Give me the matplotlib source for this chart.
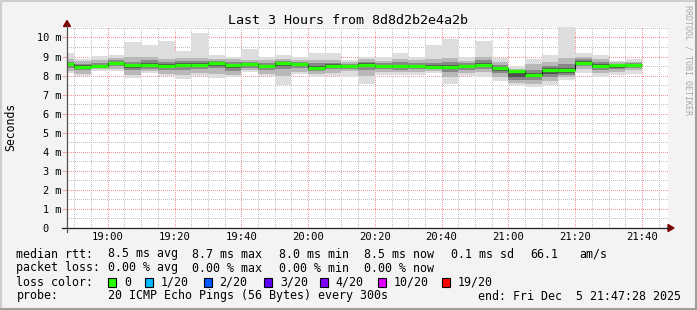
import numpy as np
import matplotlib
matplotlib.use("Agg")
import matplotlib.pyplot as plt
from matplotlib.patches import Polygon, Rectangle
from matplotlib.lines import Line2D
from matplotlib.ticker import MultipleLocator, FixedLocator

W, H = 697, 310
MONO = "DejaVu Sans Mono"

# 5 minute steps, start of each step in minutes after 18:00
step_start = list(range(45, 220, 5))

# rtt in ms
rtt_median = [8.60, 8.47, 8.50, 8.68, 8.54, 8.55, 8.52, 8.57, 8.57, 8.64,
              8.53, 8.59, 8.48, 8.66, 8.59, 8.41, 8.52, 8.50, 8.58, 8.49,
              8.48, 8.49, 8.47, 8.47, 8.48, 8.57, 8.38, 8.22, 8.05, 8.28,
              8.28, 8.68, 8.49, 8.53, 8.53]
rtt_max = [9.18, 8.85, 9.02, 9.09, 9.75, 9.63, 9.84, 9.27, 10.23, 9.06,
           9.00, 9.37, 8.98, 9.10, 9.00, 9.18, 9.18, 8.83, 9.00, 8.97,
           9.16, 9.00, 9.58, 9.90, 8.98, 9.84, 8.90, 8.48, 8.88, 9.06,
           11.50, 9.18, 9.10, 8.78, 8.86]
rtt_min = [8.13, 7.96, 8.24, 8.22, 7.87, 8.15, 7.97, 7.80, 7.96, 7.87,
           7.93, 8.18, 7.98, 7.49, 8.08, 7.93, 7.97, 7.92, 7.57, 8.02,
           8.03, 8.03, 8.12, 7.57, 8.00, 7.93, 7.72, 7.49, 7.40, 7.49,
           7.75, 8.13, 7.92, 8.01, 8.10]
# inner smoke bands (roughly ping 3/18, 6/15, 8/13 of 20)
smoke_hi1 = [8.85, 8.75, 8.80, 8.90, 8.95, 8.95, 8.85, 8.90, 8.92, 8.85,
             8.85, 8.82, 8.80, 8.85, 8.82, 8.80, 8.80, 8.72, 8.85, 8.78,
             8.85, 8.80, 8.85, 8.90, 8.78, 8.95, 8.70, 8.35, 8.60, 8.70,
             8.90, 8.95, 8.85, 8.70, 8.72]
smoke_lo1 = [8.25, 8.10, 8.32, 8.35, 8.05, 8.25, 8.10, 8.05, 8.15, 8.10,
             8.05, 8.30, 8.10, 8.00, 8.20, 8.10, 8.15, 8.25, 8.00, 8.20,
             8.20, 8.20, 8.25, 7.90, 8.15, 8.20, 7.95, 7.60, 7.55, 7.70,
             7.90, 8.35, 8.15, 8.20, 8.28]
smoke_hi2 = [8.72, 8.62, 8.65, 8.80, 8.72, 8.80, 8.70, 8.75, 8.75, 8.78,
             8.72, 8.72, 8.68, 8.78, 8.72, 8.65, 8.68, 8.62, 8.72, 8.65,
             8.70, 8.68, 8.68, 8.72, 8.65, 8.80, 8.55, 8.28, 8.30, 8.50,
             8.60, 8.85, 8.72, 8.62, 8.64]
smoke_lo2 = [8.40, 8.28, 8.40, 8.50, 8.30, 8.35, 8.28, 8.30, 8.35, 8.40,
             8.25, 8.40, 8.28, 8.35, 8.38, 8.25, 8.32, 8.35, 8.30, 8.32,
             8.30, 8.32, 8.35, 8.20, 8.30, 8.35, 8.15, 7.75, 7.75, 7.95,
             8.05, 8.48, 8.28, 8.32, 8.38]
smoke_hi3 = [8.66, 8.55, 8.56, 8.72, 8.62, 8.66, 8.60, 8.65, 8.65, 8.70,
             8.62, 8.65, 8.58, 8.72, 8.65, 8.52, 8.60, 8.56, 8.65, 8.56,
             8.58, 8.58, 8.56, 8.58, 8.56, 8.68, 8.46, 8.24, 8.15, 8.38,
             8.40, 8.75, 8.60, 8.57, 8.58]
smoke_lo3 = [8.48, 8.38, 8.45, 8.58, 8.42, 8.45, 8.40, 8.45, 8.45, 8.50,
             8.40, 8.50, 8.38, 8.52, 8.48, 8.32, 8.42, 8.42, 8.45, 8.40,
             8.38, 8.40, 8.40, 8.35, 8.40, 8.45, 8.25, 7.95, 7.90, 8.10,
             8.15, 8.58, 8.38, 8.42, 8.45]

time_ticks = [60, 80, 100, 120, 140, 160, 180, 200, 220]
time_labels = ["19:00", "19:20", "19:40", "20:00", "20:20",
               "20:40", "21:00", "21:20", "21:40"]
ms_ticks = list(range(0, 11))
ms_labels = ["0  "] + ["%d m" % v for v in range(1, 11)]

loss_names = ["0", "1/20", "2/20", "3/20", "4/20", "10/20", "19/20"]
loss_colors = ["#26ff00", "#00b8ff", "#0059ff", "#5e00ff", "#7e00ff",
               "#dd00ff", "#ff0000"]


def fx(px):
    return px / W


def fy(py):
    return 1 - py / H


fig = plt.figure(figsize=(W / 100, H / 100), dpi=100, facecolor="#f3f3f3")

# 3d frame of rrdtool
fig.add_artist(Line2D([0, 1], [fy(0.8), fy(0.8)], color="#cfcfcf", lw=1.5))
fig.add_artist(Line2D([fx(0.8), fx(0.8)], [0, 1], color="#cfcfcf", lw=1.5))
fig.add_artist(Line2D([0, 1], [fy(H - 1), fy(H - 1)], color="#9e9e9e", lw=1.5))
fig.add_artist(Line2D([fx(W - 1), fx(W - 1)], [0, 1], color="#9e9e9e", lw=1.5))

ax = fig.add_axes([fx(67), fy(228), (668 - 67) / W, (228 - 27) / H])
ax.set_facecolor("white")
ax.set_xlim(47.8, 227.8)
ax.set_ylim(0, 10.55)
for s in ax.spines.values():
    s.set_visible(False)

ax.xaxis.set_major_locator(FixedLocator(time_ticks))
ax.xaxis.set_minor_locator(MultipleLocator(5))
ax.yaxis.set_major_locator(FixedLocator(ms_ticks))
ax.yaxis.set_minor_locator(MultipleLocator(0.5))
ax.set_xticklabels(time_labels, family=MONO, fontsize=7.6)
ax.set_yticklabels(ms_labels, family=MONO, fontsize=7.4)
ax.tick_params(axis="x", which="both", length=0, pad=2.6)
ax.tick_params(axis="y", which="major", length=3.6, width=0.7,
               color="#f0a0a0", pad=0.6)
ax.tick_params(axis="y", which="minor", length=0)

ax.grid(which="minor", color="#c2c2c2", lw=0.72, ls=(0, (1, 2)), antialiased=False)
ax.grid(which="major", color="#f29494", lw=0.72, ls=(0, (1, 2)), antialiased=False)
ax.set_axisbelow(True)

# smoke
bands = [(rtt_min, rtt_max, "#dddddd"),
         (smoke_lo1, smoke_hi1, "#b8b8b8"),
         (smoke_lo2, smoke_hi2, "#888888"),
         (smoke_lo3, smoke_hi3, "#505050")]
for lo, hi, col in bands:
    lo = np.array(lo)
    hi = np.array(hi)
    ax.bar(step_start, hi - lo, bottom=lo, width=5, align="edge",
           color=col, linewidth=0, antialiased=False, zorder=2)

edges = step_start + [step_start[-1] + 5]
ax.stairs(rtt_median, edges, baseline=None, color="#101010", lw=0.8, zorder=3)
ax.hlines(rtt_median, step_start, edges[1:], colors=loss_colors[0],
          lw=2.4, zorder=4)

# axis lines and arrows
fig.add_artist(Line2D([fx(62), fx(669)], [fy(228), fy(228)], color="#202020", lw=0.9))
fig.add_artist(Line2D([fx(67), fx(67)], [fy(232), fy(25)], color="#505050", lw=0.9))
fig.add_artist(Polygon([(fx(668), fy(224.5)), (fx(668), fy(231.5)), (fx(674), fy(228))],
                       closed=True, color="#7f0000", transform=fig.transFigure))
fig.add_artist(Polygon([(fx(63.5), fy(26.5)), (fx(70.5), fy(26.5)), (fx(67), fy(20.5))],
                       closed=True, color="#7f0000", transform=fig.transFigure))

fig.text(fx(347.5), fy(20), "Last 3 Hours from 8d8d2b2e4a2b", family=MONO,
         fontsize=9.6, ha="center", va="center")
fig.text(fx(11), fy(127), "Seconds", family=MONO, fontsize=8.3,
         rotation=90, ha="center", va="center")
fig.text(fx(688), fy(60), "RRDTOOL / TOBI OETIKER", family=MONO, fontsize=6,
         rotation=270, ha="center", va="center", color="#a8a8a8")

fs = 8.35
rows = [
    (254, [(16.4, "median rtt:"), (107.6, "8.5 ms avg"), (192.4, "8.7 ms max"),
           (279, "8.0 ms min"), (364.4, "8.5 ms now"), (451, "0.1 ms sd"),
           (530, "66.1"), (579, "am/s")]),
    (268, [(16.4, "packet loss:"), (107.6, "0.00 % avg"), (192.4, "0.00 % max"),
           (279, "0.00 % min"), (364.4, "0.00 % now")]),
    (282, [(16.4, "loss color:")]),
    (296, [(16.4, "probe:"), (107.6, "20 ICMP Echo Pings (56 Bytes) every 300s"),
           (477.8, "end: Fri Dec  5 21:47:28 2025")]),
]
for y, items in rows:
    for x, s in items:
        fig.text(fx(x), fy(y), s, family=MONO, fontsize=fs, ha="left", va="center")

box_x = [108.4, 145.3, 203.6, 264.4, 320, 377.8, 442]
for bx, name, col in zip(box_x, loss_names, loss_colors):
    fig.add_artist(Rectangle((fx(bx), fy(286.5)), 8 / W, 9 / H, facecolor=col,
                             edgecolor="black", lw=0.8, transform=fig.transFigure))
    fig.text(fx(bx + 15.5), fy(282), name, family=MONO, fontsize=fs,
             ha="left", va="center")

fig.savefig("out.png", dpi=100, facecolor=fig.get_facecolor())
